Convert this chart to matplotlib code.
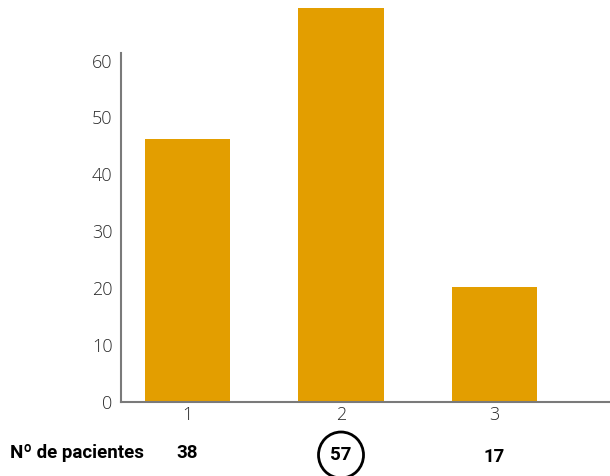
import matplotlib
matplotlib.use('Agg')
import matplotlib.pyplot as plt
from matplotlib.patches import Ellipse

categories = [1, 2, 3]
values = [46.2, 69.2, 20.2]
pacientes = ['38', '57', '17']
yticks = [0, 10, 20, 30, 40, 50, 60]

bar_color = '#E39E00'
axis_color = '#7a7a7a'

fig = plt.figure(figsize=(6.10, 4.76), dpi=100)
ax = fig.add_axes([121/610, 74/476, 489/610, 402/476])

ax.bar(categories, values, width=0.554, color=bar_color, zorder=2)

ax.set_xlim(0.567, 3.752)
ax.set_ylim(0, 70.65)

for s in ['top', 'right']:
    ax.spines[s].set_visible(False)
ax.spines['left'].set_bounds(0, 61.4)
ax.spines['left'].set_color(axis_color)
ax.spines['bottom'].set_color(axis_color)
ax.spines['left'].set_linewidth(1.5)
ax.spines['bottom'].set_linewidth(1.5)

ax.set_yticks(yticks)
ax.set_xticks(categories)
ax.tick_params(length=0, labelsize=13, labelcolor='#2b2b2b')
ax.tick_params(axis='y', pad=6)
ax.tick_params(axis='x', pad=3)
for lab in ax.get_xticklabels() + ax.get_yticklabels():
    lab.set_family('Open Sans')
    lab.set_fontweight('light')

# row of patient counts under the axis
trans = ax.get_xaxis_transform()
fig.text(10/610, 1 - 453/476, 'Nº de pacientes', family='Roboto',
         fontweight='bold', fontsize=13.5, ha='left', va='center')
offsets = [453, 455, 457]
for x, txt, yp in zip(categories, pacientes, offsets):
    ax.text(x, -(yp - 402)/402, txt, transform=trans, family='Roboto',
            fontweight='bold', fontsize=13.5, ha='center', va='center', clip_on=False)

# circle around the highlighted count
circ = Ellipse((2, -(455 - 402)/402), 45/153.5, 46/402, transform=trans,
               fill=False, edgecolor='black', linewidth=2, clip_on=False)
ax.add_patch(circ)

fig.savefig('out.png', dpi=100)
